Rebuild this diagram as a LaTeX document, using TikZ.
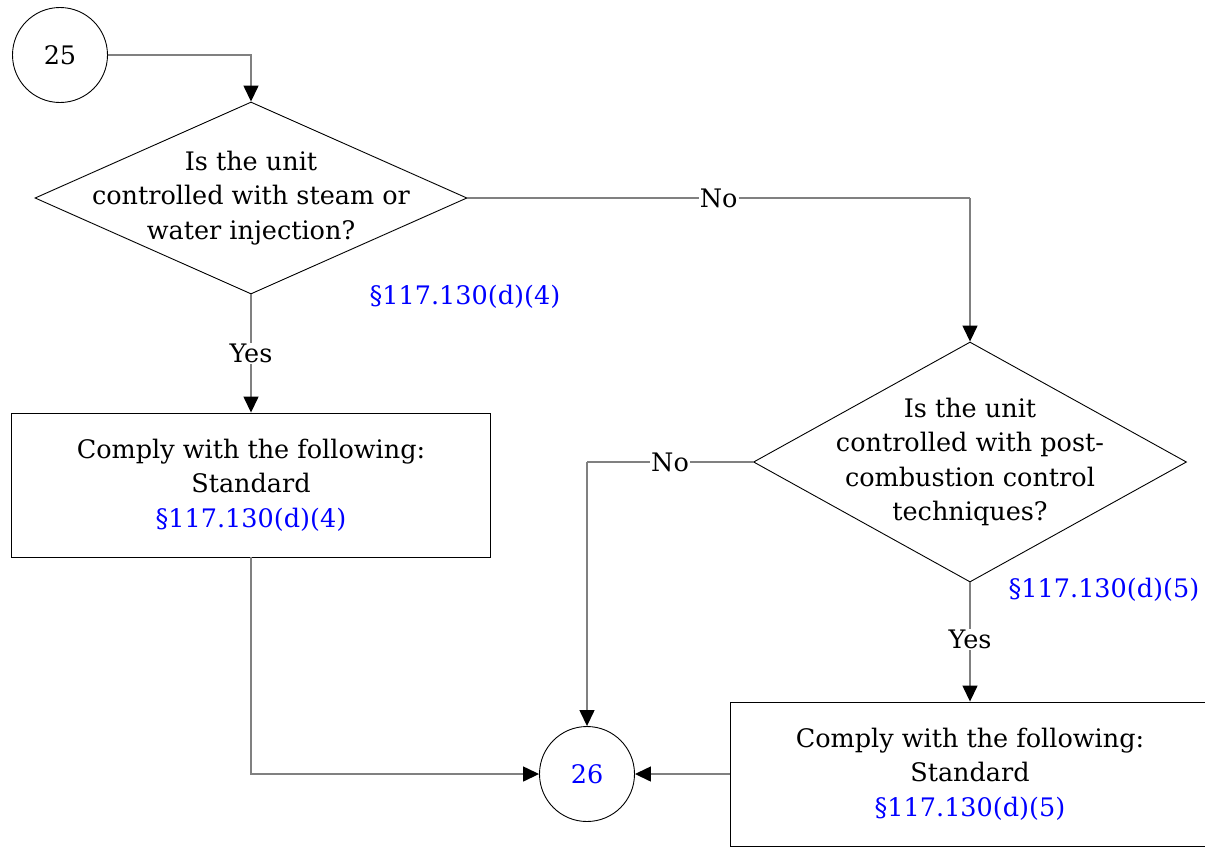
\documentclass[tikz,border=0pt]{standalone}
\usepackage{fontspec}
\setmainfont{DejaVu Serif}
\usetikzlibrary{shapes.geometric,arrows.meta,positioning}
\definecolor{rule-blue}{RGB}{0,0,255}
\definecolor{flow-gray}{RGB}{128,128,128}
\tikzstyle{connector}=[draw=flow-gray,line width=1.4pt,-{Triangle[length=16pt,width=15pt,fill=black,color=black]}]
\tikzstyle{plainline}=[draw=flow-gray,line width=1.4pt]
\tikzstyle{decision}=[diamond,draw,line width=0.9pt,inner sep=0pt]
\tikzstyle{action}=[rectangle,draw,line width=0.9pt,minimum width=479pt,minimum height=144pt,align=center]
\tikzstyle{offpage}=[circle,draw,line width=0.9pt,minimum size=95pt,inner sep=0pt]
\tikzstyle{answer}=[fill=white,inner sep=1pt]
\tikzstyle{inside}=[align=center]
\newcommand{\regref}[1]{\textcolor{rule-blue}{#1}}

\begin{document}
\begin{tikzpicture}[x=1pt,y=-1pt,font=\fontsize{25.5}{34.5}\selectfont]
	\useasboundingbox (0,0) rectangle (1205,847);
	\node[offpage] (c25) at (60,55) {25};
	\node[decision,minimum width=432pt,minimum height=192pt] (d1) at (251,198) {};
	\node[inside] (t1) at (d1.center) {Is the unit\\controlled with steam or\\water injection?};
	\node (r1) at (465,297) {\regref{§117.130(d)(4)}};
	\node[action] (b1) at (251,485) {Comply with the following:\\Standard\\\regref{§117.130(d)(4)}};
	\node[decision,minimum width=433pt,minimum height=240pt] (d2) at (970,462) {};
	\node[inside] (t2) at (d2.center) {Is the unit\\controlled with post-\\combustion control\\techniques?};
	\node (r2) at (1104,590) {\regref{§117.130(d)(5)}};
	\node[action] (b2) at (970,774) {Comply with the following:\\Standard\\\regref{§117.130(d)(5)}};
	\node[offpage] (c26) at (587,774) {\regref{26}};
	\coordinate (k1) at (251,55);
	\coordinate (k2) at (970,198);
	\coordinate (k3) at (587,462);
	\coordinate (k4) at (251,774);

	\draw[connector] (c25.east) -- (k1) -- (d1.north);
	\draw[connector] (d1.south) -- node[answer,pos=0.5] {Yes} (b1.north);
	\draw[plainline] (d1.east) -- node[answer,pos=0.5] {No} (k2);
	\draw[connector] (k2) -- (d2.north);
	\draw[connector] (d2.south) -- node[answer,pos=0.48] {Yes} (b2.north);
	\draw[plainline] (d2.west) -- node[answer,pos=0.5] {No} (k3);
	\draw[connector] (k3) -- (c26.north);
	\draw[connector] (b1.south) -- (k4) -- (c26.west);
	\draw[connector] (b2.west) -- (c26.east);
\end{tikzpicture}
\end{document}
